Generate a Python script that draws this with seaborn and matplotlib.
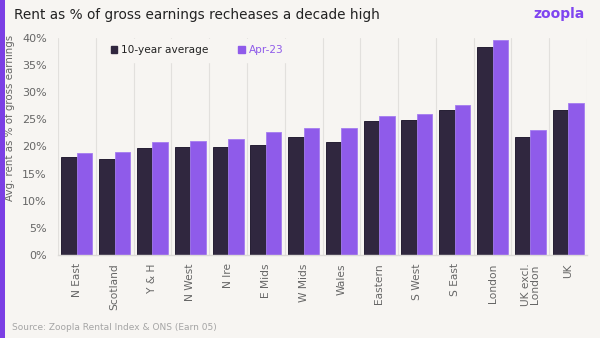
import matplotlib
matplotlib.use("Agg")
import matplotlib.pyplot as plt
import matplotlib.patches as mpatches
import seaborn as sns
import pandas as pd
import numpy as np

regions = ["N East", "Scotland", "Y & H", "N West", "N Ire", "E Mids", "W Mids",
           "Wales", "Eastern", "S West", "S East", "London", "UK excl.\nLondon", "UK"]
ten_year_avg = [18.0, 17.7, 19.8, 19.9, 20.0, 20.3, 21.8, 20.8, 24.7, 24.8, 26.7, 38.4, 21.8, 26.7]
apr_23 = [18.8, 19.0, 20.9, 21.1, 21.3, 22.6, 23.4, 23.4, 25.7, 26.0, 27.7, 39.7, 23.1, 28.1]
series_names = ["10-year average", "Apr-23"]
yticks = [0, 5, 10, 15, 20, 25, 30, 35, 40]

df = pd.DataFrame({
    "region": regions * 2,
    "value": ten_year_avg + apr_23,
    "series": [series_names[0]] * len(regions) + [series_names[1]] * len(regions),
})

BG = "#f7f5f2"
DARK = "#30273f"
PURPLE = "#8f5bea"
GREY = "#666666"

sns.set_theme(style="white")
plt.rcParams["font.family"] = ["DejaVu Sans"]

fig = plt.figure(figsize=(6, 3.38), dpi=100, facecolor=BG)
ax = fig.add_axes([58 / 600, 1 - 255 / 338, 529 / 600, 217 / 338])
ax.set_facecolor(BG)

sns.barplot(data=df, x="region", y="value", hue="series", order=regions,
            hue_order=series_names, palette=[DARK, PURPLE], width=0.82,
            saturation=1, ax=ax, legend=False)

for i, p in enumerate(ax.patches):
    if i < len(regions):
        p.set_edgecolor("#140c24")
    else:
        p.set_edgecolor("#a57cf0")
    p.set_linewidth(0.6)

ax.set_ylim(0, 40)
ax.set_xlim(-0.5, len(regions) - 0.5)
ax.set_yticks(yticks)
ax.set_yticklabels([f"{t}%" for t in yticks], color=GREY, fontsize=8)
ax.tick_params(axis="y", length=0, pad=8)
ax.tick_params(axis="x", length=0, pad=6)
ax.set_xticks(range(len(regions)))
ax.set_xticklabels(regions, rotation=90, color=GREY, fontsize=7.7, linespacing=0.95)
ax.set_xlabel("")
ax.set_ylabel("Avg. rent as % of gross earnings", color=GREY, fontsize=7.4)
ax.yaxis.set_label_coords(-0.082, 0.63)

ax.set_xticks(np.arange(-0.5, len(regions), 1), minor=True)
ax.grid(which="minor", axis="x", color="#e2e0dd", linewidth=0.8)
ax.grid(which="major", axis="both", visible=False)
ax.tick_params(which="minor", length=0)
ax.set_axisbelow(True)

for s in ["top", "right", "left"]:
    ax.spines[s].set_visible(False)
ax.spines["bottom"].set_color("#dcdad7")
ax.spines["bottom"].set_linewidth(1)

handles = [mpatches.Patch(color=DARK, label=series_names[0]),
           mpatches.Patch(color=PURPLE, label=series_names[1])]
leg = ax.legend(handles=handles, loc="upper left", bbox_to_anchor=(0.078, 1.02),
                ncol=2, frameon=True, fontsize=7.6, handlelength=0.6, handleheight=0.6,
                handletextpad=0.4, columnspacing=2.8, borderpad=0.6)
leg.get_frame().set_facecolor(BG)
leg.get_frame().set_edgecolor(BG)
leg.get_frame().set_alpha(1)
leg.get_texts()[0].set_color("#222222")
leg.get_texts()[1].set_color(PURPLE)

fig.text(14 / 600, 1 - 15 / 338, "Rent as % of gross earnings recheases a decade high",
         fontsize=9.8, color="#222222", va="center", ha="left")
fig.text(585 / 600, 1 - 14 / 338, "zoopla", fontsize=10, color="#7f45f0",
         fontweight="bold", va="center", ha="right")
fig.text(12 / 600, 1 - 327 / 338, "Source: Zoopla Rental Index & ONS (Earn 05)",
         fontsize=6.5, color="#a5a5a5", va="center", ha="left")

fig.patches.append(mpatches.Rectangle((0, 0), 5 / 600, 1, transform=fig.transFigure,
                                      facecolor="#7b3fe4", edgecolor="none"))

fig.savefig("out.png", dpi=100, facecolor=BG)
